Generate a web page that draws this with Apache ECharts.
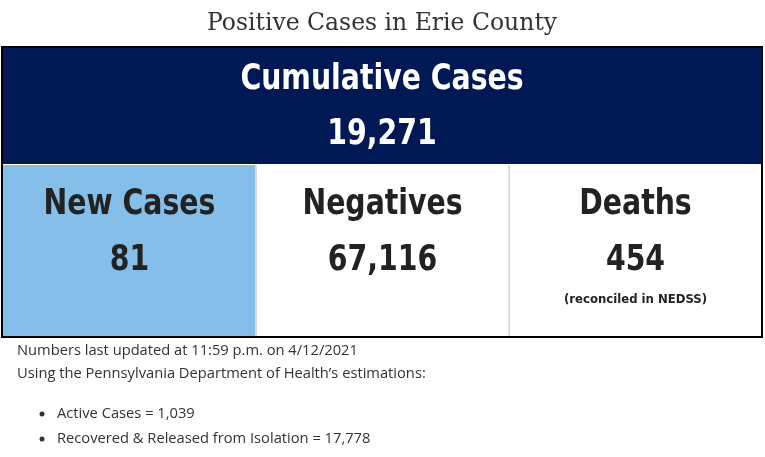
<!DOCTYPE html>
<html>
<head>
<meta charset="utf-8">
<script src="https://cdn.jsdelivr.net/npm/echarts@6/dist/echarts.min.js"></script>
<style>
  html, body { margin: 0; padding: 0; background: #fff; }
  #main { width: 765px; height: 457px; }
</style>
</head>
<body>
<div id="main"></div>
<script>
// dashboard values
var pageTitle = 'Positive Cases in Erie County';
var totalLabel = 'Cumulative Cases';
var totalValue = '19,271';
var cellLabels = ['New Cases', 'Negatives', 'Deaths'];
var cellValues = ['81', '67,116', '454'];
var cellNotes = ['', '', '(reconciled in NEDSS)'];
var infoLines = [
    'Numbers last updated at 11:59 p.m. on 4/12/2021',
    'Using the Pennsylvania Department of Health\u2019s estimations:'
];
var bulletLines = [
    'Active Cases = 1,039',
    'Recovered & Released from Isolation = 17,778'
];

var board = {
    navy: '#001955',
    blue: '#85bfe9',
    ink: '#222',
    head: '"DejaVu Sans Condensed", "Liberation Sans Narrow", sans-serif',
    body: '"Open Sans", sans-serif'
};

// big condensed heading, squeezed a little to fit the narrower original face
board.heading = function (text, x, y, color) {
    return {
        type: 'text', x: x, y: y, scaleX: 0.9,
        style: { text: text, font: 'bold 35px ' + board.head, fill: color, align: 'center', verticalAlign: 'middle' }
    };
};

board.build = function () {
    var els = [];
    var left = 3, top = 48, width = 759;
    var cellTop = 165, cellH = 171;
    var cellW = width / 3;

    els.push({
        type: 'text', x: 382, y: 23, scaleX: 0.94,
        style: { text: pageTitle, font: '25px "DejaVu Serif", serif', fill: '#333', align: 'center', verticalAlign: 'middle' }
    });
    // outer frame
    els.push({
        type: 'rect', shape: { x: 2, y: 47, width: 760, height: 290 },
        style: { fill: '#fff', stroke: '#000', lineWidth: 2 }
    });
    els.push({
        type: 'rect', shape: { x: left, y: top, width: width, height: 116 },
        style: { fill: board.navy }
    });
    els.push(board.heading(totalLabel, 382, 80, '#fff'));
    els.push(board.heading(totalValue, 382, 135, '#fff'));

    for (var i = 0; i < cellLabels.length; i++) {
        var cx = left + cellW * i;
        if (i === 0) {
            els.push({
                type: 'rect', shape: { x: cx, y: cellTop, width: cellW - 1, height: cellH },
                style: { fill: board.blue }
            });
        }
        if (i > 0) {
            els.push({
                type: 'rect', shape: { x: cx - 1, y: cellTop, width: 2, height: cellH },
                style: { fill: '#d7dce6' }
            });
        }
        var mid = cx + cellW / 2;
        els.push(board.heading(cellLabels[i], mid, 205, board.ink));
        els.push(board.heading(cellValues[i], mid, 261, board.ink));
        if (cellNotes[i]) {
            els.push({
                type: 'text', x: mid, y: 300,
                style: { text: cellNotes[i], font: 'bold 13px ' + board.head, fill: board.ink, align: 'center', verticalAlign: 'middle' }
            });
        }
    }

    infoLines.forEach(function (t, k) {
        els.push({
            type: 'text', x: 17, y: 351 + k * 23,
            style: { text: t, font: '14.7px ' + board.body, fill: '#333', verticalAlign: 'middle' }
        });
    });
    bulletLines.forEach(function (t, k) {
        var y = 414 + k * 25;
        els.push({ type: 'circle', shape: { cx: 42, cy: y, r: 2.5 }, style: { fill: '#333' } });
        els.push({
            type: 'text', x: 57, y: y,
            style: { text: t, font: '14.7px ' + board.body, fill: '#333', verticalAlign: 'middle' }
        });
    });
    return els;
};

var chart = echarts.init(document.getElementById('main'));
chart.setOption({
    animation: false,
    graphic: board.build()
});
</script>
</body>
</html>
